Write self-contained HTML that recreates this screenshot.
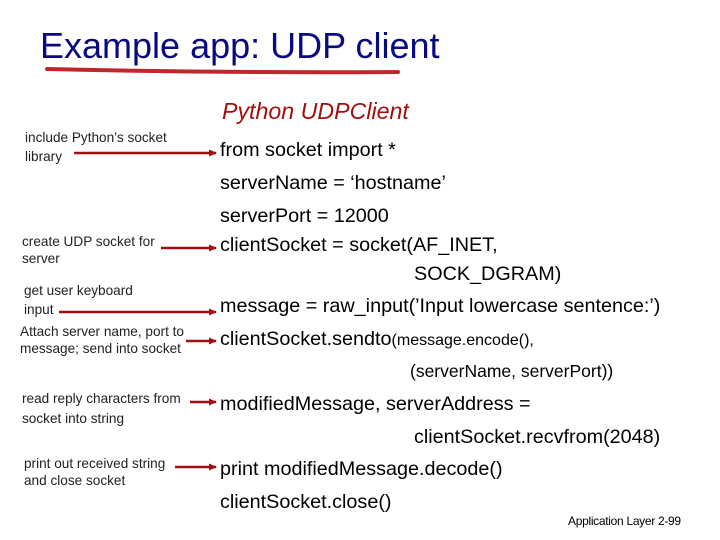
<!DOCTYPE html>
<html><head><meta charset="utf-8"><style>
body{margin:0;background:#fff}
svg{display:block}
text{font-family:"Liberation Sans",Arial,sans-serif}
.c{font-size:19.8px;fill:#000}
.s{font-size:16px;fill:#000}
.s2{font-size:17.5px;fill:#000}
.l{font-size:13.6px;fill:#222}
</style></head><body>
<svg width="720" height="540" viewBox="0 0 720 540" xmlns="http://www.w3.org/2000/svg">
<defs><marker id="a" markerWidth="8" markerHeight="8" refX="7" refY="4" orient="auto" markerUnits="userSpaceOnUse"><path d="M0,0.5 L8,4 L0,7.5z" fill="#a00d12"/></marker></defs>
<text x="40" y="58" font-size="36" fill="#0a0a80">Example app: UDP client</text>
<path d="M47,69 Q220,73 398,72" stroke="#c0272d" stroke-width="4" fill="none" stroke-linecap="round"/>
<text x="222" y="119" font-size="23.2" font-style="italic" fill="#a01010">Python UDPClient</text>
<text x="25" y="142" class="l">include Python’s socket</text>
<text x="25" y="161" class="l">library</text>
<text x="22" y="246" class="l">create UDP socket for</text>
<text x="22" y="263" class="l">server</text>
<text x="24" y="295" class="l">get user keyboard</text>
<text x="24" y="314" class="l">input</text>
<text x="20" y="336" class="l">Attach server name, port to</text>
<text x="20" y="353" class="l">message; send into socket</text>
<text x="22" y="403" class="l">read reply characters from</text>
<text x="22" y="423" class="l">socket into string</text>
<text x="24" y="468" class="l">print out received string</text>
<text x="24" y="485" class="l">and close socket</text>
<g stroke="#a00d12" stroke-width="2.5" fill="none" marker-end="url(#a)">
<line x1="74" y1="153" x2="216" y2="153"/>
<line x1="161" y1="248" x2="216" y2="248"/>
<line x1="59" y1="312" x2="216" y2="312"/>
<line x1="186" y1="341" x2="216" y2="341"/>
<line x1="190" y1="402" x2="216" y2="402"/>
<line x1="175" y1="467" x2="216" y2="467"/>
</g>
<text x="220" y="156" class="c">from socket import *</text>
<text x="220" y="189" class="c">serverName = ‘hostname’</text>
<text x="220" y="222" class="c">serverPort = 12000</text>
<text x="220" y="251" class="c">clientSocket = socket(AF_INET,</text>
<text x="414" y="280" class="c">SOCK_DGRAM)</text>
<text x="220" y="312" class="c">message = raw_input(’Input lowercase sentence:’)</text>
<text x="220" y="345" class="c">clientSocket.sendto<tspan class="s">(message.encode(),</tspan></text>
<text x="410" y="377" class="s2">(serverName, serverPort))</text>
<text x="220" y="410" class="c">modifiedMessage, serverAddress =</text>
<text x="414" y="443" class="c">clientSocket.recvfrom(2048)</text>
<text x="220" y="475" class="c">print modifiedMessage.decode()</text>
<text x="220" y="508" class="c">clientSocket.close()</text>
<text x="568" y="525" font-size="12" fill="#000" letter-spacing="-0.3">Application Layer 2-99</text>
</svg>
</body></html>
